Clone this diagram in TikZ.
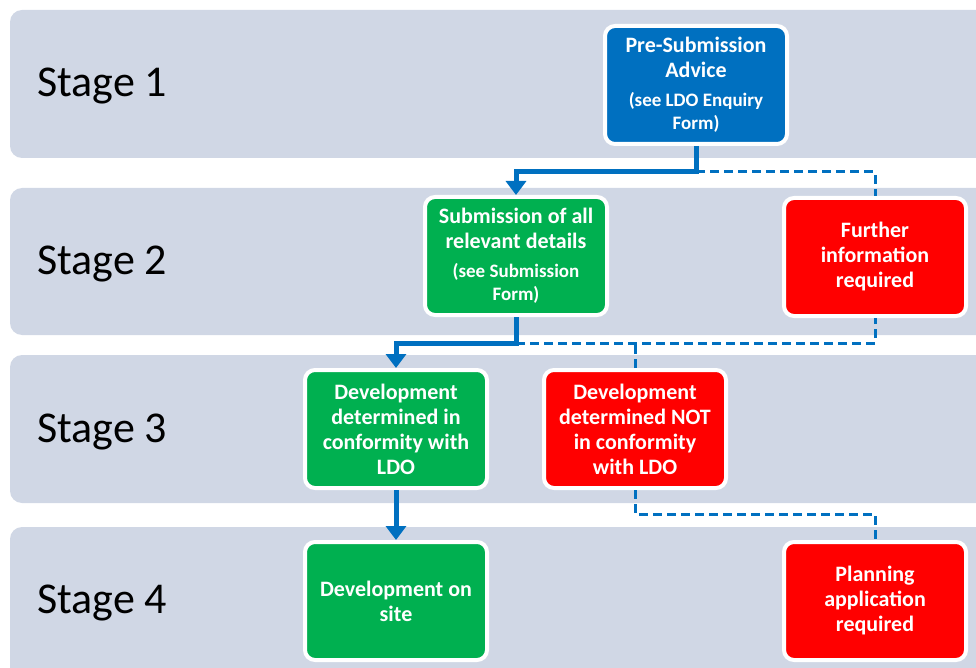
\documentclass[tikz,border=0pt]{standalone}
\usepackage{fontspec}
\setmainfont{Carlito}
\usetikzlibrary{arrows.meta}

\definecolor{band}{HTML}{D0D7E5}
\definecolor{lblue}{HTML}{0070C0}
\definecolor{lgreen}{HTML}{00B050}
\definecolor{lred}{HTML}{FF0000}

\tikzstyle{box}=[rounded corners=10pt, draw=white, line width=4pt, minimum width=182pt, minimum height=118pt, text width=178pt, inner sep=0pt, align=flush center, text=white, font=\fontsize{22}{25}\selectfont\bfseries]
\tikzstyle{pre}=[box, fill=lblue]
\tikzstyle{ok}=[box, fill=lgreen]
\tikzstyle{no}=[box, fill=lred]
\tikzstyle{stage}=[anchor=base west, inner sep=0pt, font=\fontsize{44}{50}\selectfont]
\tikzstyle{flow}=[draw=lblue, line width=5pt, -{Triangle[width=20pt,length=14pt]}]
\tikzstyle{dflow}=[draw=lblue, line width=3pt, dash pattern=on 9pt off 5pt]

\newcommand{\seeform}[1]{\par\vspace{6pt}\fontsize{19}{23}\selectfont #1\par}

\begin{document}
\begin{tikzpicture}[x=1pt, y=-1pt]
    \useasboundingbox (0,0) rectangle (976,668);
    \clip (0,0) rectangle (976,668);

    % stage bands
    \fill[band, rounded corners=12pt] (10,10)  rectangle (1000,158);
    \fill[band, rounded corners=12pt] (10,188) rectangle (1000,335);
    \fill[band, rounded corners=12pt] (10,355) rectangle (1000,503);
    \fill[band, rounded corners=12pt] (10,527) rectangle (1000,700);

    \node[stage] (s1) at (37,97)  {Stage 1};
    \node[stage] (s2) at (37,274) {Stage 2};
    \node[stage] (s3) at (37,442) {Stage 3};
    \node[stage] (s4) at (37,613) {Stage 4};

    \node[pre] (pre)   at (696,85)  {Pre-Submission\\Advice\seeform{(see LDO Enquiry\\Form)}};
    \node[ok]  (sub)   at (516,256) {Submission of all\\relevant details\seeform{(see Submission\\Form)}};
    \node[no]  (fur)   at (875,257) {Further\\information\\required};
    \node[ok]  (conf)  at (396,429) {Development\\determined in\\conformity with\\LDO};
    \node[no]  (nconf) at (635,429) {Development\\determined NOT\\in conformity\\with LDO};
    \node[ok]  (site)  at (396,601) {Development on\\site};
    \node[no]  (plan)  at (875,601) {Planning\\application\\required};

    \coordinate (j1) at (696,172);
    \coordinate (j2) at (516,343);
    \coordinate (j3) at (635,514);

    \draw[dflow] (j1) -| (fur.north);
    \draw[dflow] (j2) -| (fur.south);
    \draw[dflow] (nconf.north) -- (nconf.north |- j2);
    \draw[dflow] (nconf.south) -- (j3) -| (plan.north);
    \draw[flow] (pre.south) -- (j1) -| (sub.north);
    \draw[flow] (sub.south) -- (j2) -| (conf.north);
    \draw[flow] (conf.south) -- (site.north);
  \end{tikzpicture}
\end{document}
